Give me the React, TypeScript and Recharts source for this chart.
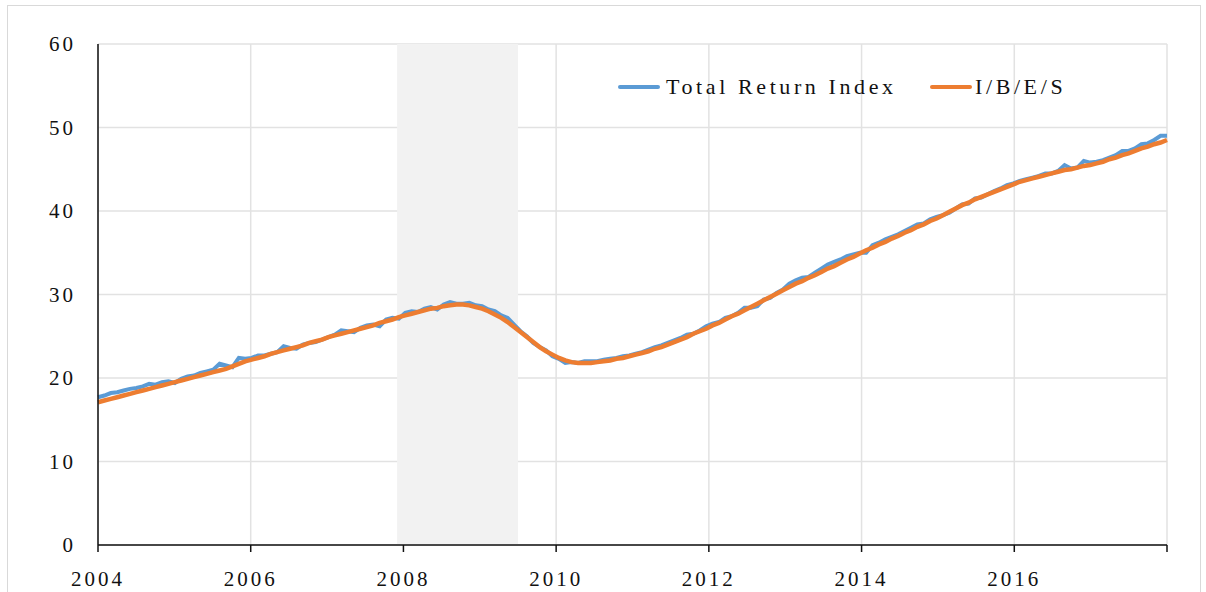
import React from "react";
import {
  LineChart,
  Line,
  XAxis,
  YAxis,
  CartesianGrid,
  ReferenceArea,
} from "recharts";

const years = [2004, 2005, 2006, 2007, 2008, 2009, 2010, 2011, 2012, 2013, 2014, 2015, 2016, 2017];

// monthly values, one row per year
const totalReturn = [
  [17.7, 17.9, 18.2, 18.3, 18.5, 18.7, 18.8, 19.0, 19.3, 19.2, 19.5, 19.6],
  [19.4, 19.9, 20.2, 20.3, 20.6, 20.8, 21.0, 21.7, 21.5, 21.3, 22.4, 22.3],
  [22.4, 22.7, 22.7, 22.9, 23.1, 23.8, 23.6, 23.5, 24.0, 24.2, 24.3, 24.6],
  [24.9, 25.2, 25.7, 25.6, 25.5, 26.0, 26.3, 26.4, 26.2, 27.0, 27.2, 27.1],
  [27.8, 28.0, 27.9, 28.3, 28.5, 28.2, 28.8, 29.1, 28.9, 28.9, 29.0, 28.7],
  [28.6, 28.2, 28.0, 27.5, 27.2, 26.4, 25.6, 25.0, 24.2, 23.7, 23.3, 22.6],
  [22.3, 21.8, 21.9, 21.8, 22.0, 22.0, 22.0, 22.2, 22.3, 22.4, 22.6, 22.7],
  [22.9, 23.1, 23.4, 23.7, 23.9, 24.2, 24.5, 24.8, 25.2, 25.3, 25.7, 26.2],
  [26.5, 26.7, 27.2, 27.4, 27.8, 28.4, 28.4, 28.6, 29.4, 29.6, 30.2, 30.6],
  [31.3, 31.7, 32.0, 32.1, 32.6, 33.1, 33.6, 33.9, 34.2, 34.6, 34.8, 35.0],
  [35.0, 35.9, 36.2, 36.6, 36.9, 37.2, 37.6, 38.0, 38.4, 38.5, 39.0, 39.3],
  [39.5, 39.8, 40.3, 40.8, 40.9, 41.5, 41.6, 42.0, 42.4, 42.7, 43.1, 43.3],
  [43.6, 43.8, 44.0, 44.2, 44.5, 44.5, 44.8, 45.5, 45.1, 45.2, 46.0, 45.8],
  [45.9, 46.1, 46.4, 46.7, 47.2, 47.2, 47.5, 48.0, 48.1, 48.5, 49.0, 49.0],
];

const ibes = [
  [17.1, 17.3, 17.5, 17.7, 17.9, 18.1, 18.3, 18.5, 18.7, 18.9, 19.1, 19.3],
  [19.5, 19.7, 19.9, 20.1, 20.3, 20.5, 20.7, 20.9, 21.1, 21.4, 21.7, 22.0],
  [22.2, 22.4, 22.6, 22.9, 23.1, 23.3, 23.5, 23.7, 23.9, 24.2, 24.4, 24.6],
  [24.9, 25.1, 25.3, 25.5, 25.7, 25.9, 26.1, 26.3, 26.6, 26.8, 27.0, 27.3],
  [27.5, 27.7, 27.9, 28.1, 28.3, 28.4, 28.6, 28.7, 28.8, 28.8, 28.7, 28.5],
  [28.3, 28.0, 27.6, 27.2, 26.7, 26.1, 25.5, 24.9, 24.3, 23.7, 23.2, 22.8],
  [22.4, 22.1, 21.9, 21.8, 21.8, 21.8, 21.9, 22.0, 22.1, 22.3, 22.4, 22.6],
  [22.8, 23.0, 23.2, 23.5, 23.7, 24.0, 24.3, 24.6, 24.9, 25.3, 25.6, 25.9],
  [26.3, 26.6, 27.0, 27.4, 27.7, 28.1, 28.5, 28.9, 29.3, 29.7, 30.1, 30.5],
  [30.9, 31.3, 31.6, 32.0, 32.3, 32.7, 33.1, 33.4, 33.8, 34.2, 34.5, 34.9],
  [35.3, 35.6, 36.0, 36.3, 36.7, 37.0, 37.4, 37.7, 38.1, 38.4, 38.8, 39.1],
  [39.5, 39.9, 40.3, 40.7, 41.0, 41.4, 41.7, 42.0, 42.3, 42.6, 42.9, 43.2],
  [43.5, 43.7, 43.9, 44.1, 44.3, 44.5, 44.7, 44.9, 45.0, 45.2, 45.4, 45.5],
  [45.7, 45.9, 46.2, 46.4, 46.7, 46.9, 47.2, 47.5, 47.7, 48.0, 48.2, 48.5],
];

const xTicks = [2004, 2006, 2008, 2010, 2012, 2014, 2016, 2018];
const yTicks = [0, 10, 20, 30, 40, 50, 60];
const recession = [2007.917, 2009.5];

const BLUE = "#5B9BD5";
const ORANGE = "#ED7D31";
const FONT = "'Liberation Serif', 'DejaVu Serif', serif";

// monthly points spread over the full 2004-2018 axis
const nPoints = years.length * 12;
const data = years.flatMap((y, yi) =>
  totalReturn[yi].map((v, m) => {
    const i = yi * 12 + m;
    return {
      t: 2004 + (i * 14) / (nPoints - 1),
      tri: v,
      ibes: ibes[yi][m],
    };
  })
);

const tickStyle = { fill: "#111", fontSize: 21, fontFamily: FONT, letterSpacing: 3 };

const legendItems = [
  { label: "Total Return Index", color: BLUE, left: 618, gap: 6 },
  { label: "I/B/E/S", color: ORANGE, left: 930, gap: 3 },
];

const LegendBox = () => (
  <>
    {legendItems.map((it) => (
      <div
        key={it.label}
        style={{
          position: "absolute",
          left: it.left,
          top: 74,
          display: "flex",
          alignItems: "center",
          fontFamily: FONT,
          fontSize: 22,
          letterSpacing: 3.6,
          color: "#111",
          whiteSpace: "nowrap",
        }}
      >
        <span style={{ width: 42, height: 4, background: it.color, borderRadius: 2, marginRight: it.gap }} />
        <span>{it.label}</span>
      </div>
    ))}
  </>
);

export default function App() {
  return (
    <div style={{ position: "absolute", left: 0, top: 0, width: 1206, height: 592, overflow: "hidden", background: "#fff" }}>
      <div style={{ position: "absolute", left: 7, top: 5, width: 1192, height: 600, border: "1px solid #d9d9d9" }} />
      <LineChart width={1206} height={592} data={data} margin={{ top: 44, right: 39, bottom: 0, left: 0 }}>
        <CartesianGrid stroke="#e2e2e2" strokeWidth={1.5} />
        <ReferenceArea x1={recession[0]} x2={recession[1]} y1={0} y2={60} fill="#f2f2f2" fillOpacity={1} stroke="none" />
        <XAxis
          dataKey="t"
          type="number"
          domain={[2004, 2018]}
          ticks={xTicks}
          tickFormatter={(v: number) => (v === 2018 ? "" : String(v))}
          height={47}
          tickSize={7}
          tickMargin={19}
          stroke="#111"
          strokeWidth={1.5}
          tick={tickStyle}
        />
        <YAxis
          type="number"
          domain={[0, 60]}
          ticks={yTicks}
          width={98}
          tickLine={false}
          tickSize={0}
          tickMargin={22}
          stroke="#111"
          strokeWidth={1.5}
          tick={tickStyle}
        />
        <Line dataKey="tri" name="Total Return Index" stroke={BLUE} strokeWidth={4} dot={false} isAnimationActive={false} />
        <Line dataKey="ibes" name="I/B/E/S" stroke={ORANGE} strokeWidth={4.5} dot={false} isAnimationActive={false} />
      </LineChart>
      <LegendBox />
    </div>
  );
}
